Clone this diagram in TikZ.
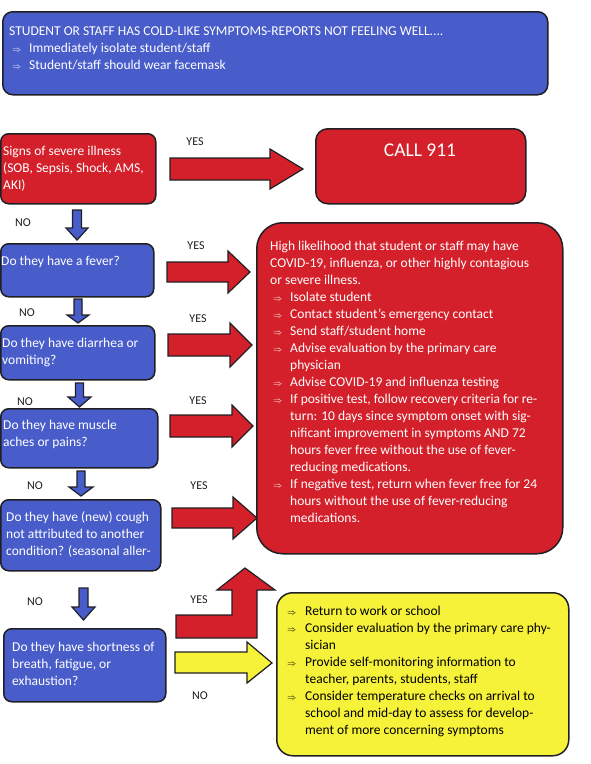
\documentclass[tikz,border=0pt]{standalone}
\usepackage{fontspec}
\setmainfont{Carlito}
\definecolor{fcblue}{RGB}{72,92,202}
\definecolor{fcred}{RGB}{212,32,42}
\definecolor{fcyellow}{RGB}{246,242,58}
\definecolor{fcedge}{RGB}{32,32,36}
\definecolor{fclabel}{RGB}{30,30,30}
\newcommand{\tbul}{\hspace*{3pt}\makebox[17pt][l]{$\scriptstyle\Rightarrow$}}
\newcommand{\rbul}{\hspace*{3pt}\makebox[17pt][l]{$\scriptstyle\Rightarrow$}}
\newcommand{\rcont}{\hspace*{20pt}}
\newcommand{\ybul}{\makebox[18pt][l]{$\scriptstyle\Rightarrow$}}
\newcommand{\ycont}{\hspace*{18pt}}
\newcommand{\harrow}[7]{%
  \draw[blk, fill=#7] (#1,#3-#5) -- (#4,#3-#5) -- (#4,#3-#6) -- (#2,#3) -- (#4,#3+#6) -- (#4,#3+#5) -- (#1,#3+#5) -- cycle;}
\newcommand{\varrow}[6]{%
  \draw[blk, fill=fcblue] (#1-#5,#2) -- (#1+#5,#2) -- (#1+#5,#4) -- (#1+#6,#4) -- (#1,#3) -- (#1-#6,#4) -- (#1-#5,#4) -- cycle;}
\begin{document}
\begin{tikzpicture}[x=1pt,y=-1pt,
  box/.style={draw=fcedge, line width=1.5pt, inner sep=0pt, anchor=north west},
  bluebox/.style={box, fill=fcblue, rounded corners=8pt},
  redbox/.style={box, fill=fcred, rounded corners=8pt},
  yellowbox/.style={box, fill=fcyellow, rounded corners=16pt},
  boxtext/.style={font=\fontsize{13.5}{17}\selectfont, align=left, inner sep=0pt, anchor=west, text=white},
  lbl/.style={font=\fontsize{12}{14}\selectfont, text=fclabel, inner sep=0pt},
  blk/.style={draw=fcedge, line width=1.2pt, line join=miter}]
\useasboundingbox (0,0) rectangle (590,764);

% boxes
\node[bluebox, rounded corners=10pt, minimum width=545pt, minimum height=83pt] (top) at (2,11) {};
\node[redbox, minimum width=155pt, minimum height=70pt] (severe) at (0,133) {};
\node[redbox, rounded corners=12pt, minimum width=210pt, minimum height=75pt] (call) at (315,128) {};
\node[bluebox, minimum width=153pt, minimum height=53pt] (fever) at (0,243) {};
\node[bluebox, minimum width=154pt, minimum height=54pt] (diarrhea) at (0,325) {};
\node[bluebox, minimum width=157pt, minimum height=59pt] (muscle) at (0,408) {};
\node[bluebox, minimum width=160pt, minimum height=71pt] (cough) at (0,499) {};
\node[bluebox, minimum width=162pt, minimum height=73pt] (short) at (3,628) {};
\node[redbox, rounded corners=26pt, minimum width=306pt, minimum height=331pt] (bigred) at (256,222) {};
\node[yellowbox, minimum width=292pt, minimum height=163pt] (yellow) at (276,592) {};

% texts
\node[boxtext] (toptext) at (9,48.3) {STUDENT OR STAFF HAS COLD-LIKE SYMPTOMS-REPORTS NOT FEELING WELL....\\
\tbul Immediately isolate student/staff\\
\tbul Student/staff should wear facemask};
\node[boxtext] (severetext) at (3,168.7) {Signs of severe illness\\(SOB, Sepsis, Shock, AMS,\\AKI)};
\node[font=\fontsize{19.5}{22}\selectfont, text=white, inner sep=0pt] (calltext) at (420,150) {CALL 911};
\node[boxtext] (fevertext) at (1,262) {Do they have a fever?};
\node[boxtext] (diarrheatext) at (2,352) {Do they have diarrhea or\\vomiting?};
\node[boxtext] (muscletext) at (3,434.5) {Do they have muscle\\aches or pains?};
\node[boxtext] (coughtext) at (6,534) {Do they have (new) cough\\not attributed to another\\condition? (seasonal aller-};
\node[boxtext] (shorttext) at (12,664.3) {Do they have shortness of\\breath, fatigue, or\\exhaustion?};
\node[boxtext] (bigredtext) at (270,382) {High likelihood that student or staff may have\\
COVID-19, influenza, or other highly contagious\\
or severe illness.\\
\rbul Isolate student\\
\rbul Contact student’s emergency contact\\
\rbul Send staff/student home\\
\rbul Advise evaluation by the primary care\\
\rcont physician\\
\rbul Advise COVID-19 and influenza testing\\
\rbul If positive test, follow recovery criteria for re-\\
\rcont turn: 10 days since symptom onset with sig-\\
\rcont nificant improvement in symptoms AND 72\\
\rcont hours fever free without the use of fever-\\
\rcont reducing medications.\\
\rbul If negative test, return when fever free for 24\\
\rcont hours without the use of fever-reducing\\
\rcont medications.};
\node[boxtext, text=black] (yellowtext) at (287,671.5) {\ybul Return to work or school\\
\ybul Consider evaluation by the primary care phy-\\
\ycont sician\\
\ybul Provide self-monitoring information to\\
\ycont teacher, parents, students, staff\\
\ybul Consider temperature checks on arrival to\\
\ycont school and mid-day to assess for develop-\\
\ycont ment of more concerning symptoms};

% YES / NO labels
\node[lbl] (yes1) at (195,142) {YES};
\node[lbl] (yes2) at (196,246) {YES};
\node[lbl] (yes3) at (198,319) {YES};
\node[lbl] (yes4) at (198,401) {YES};
\node[lbl] (yes5) at (199,486) {YES};
\node[lbl] (yes6) at (199,600) {YES};
\node[lbl] (no1) at (23,223) {NO};
\node[lbl] (no2) at (27,313) {NO};
\node[lbl] (no3) at (25,402) {NO};
\node[lbl] (no4) at (35,486) {NO};
\node[lbl] (no5) at (35,602) {NO};
\node[lbl] (no6) at (200,696) {NO};

% red right arrows
\harrow{170}{303}{169}{270}{11}{20}{fcred}
\harrow{167}{250}{272}{228}{10}{21}{fcred}
\harrow{168}{252}{345}{230}{11}{22}{fcred}
\harrow{170}{253}{426}{232}{11}{21}{fcred}
\harrow{172}{257}{518}{233}{10}{21}{fcred}

% blue down arrows
\varrow{77}{210}{240}{228}{4.5}{11}
\varrow{78}{299}{323}{315}{4}{11}
\varrow{79.5}{383}{407}{397}{4}{11.5}
\varrow{81}{471}{496}{487}{4}{12}
\varrow{83.5}{588}{620}{607}{4.5}{11.5}

% L-shaped red arrow (YES from last question)
\draw[blk, fill=fcred] (176,638) -- (176,615) -- (232,615) -- (232,590) -- (217,590) -- (245,568) -- (275,590) -- (257,590) -- (257,638) -- cycle;
% yellow arrow (NO)
\draw[blk, fill=fcyellow] (175,652) -- (247,652) -- (247,642) -- (272,663) -- (247,683) -- (247,673) -- (175,673) -- cycle;
\end{tikzpicture}
\end{document}
